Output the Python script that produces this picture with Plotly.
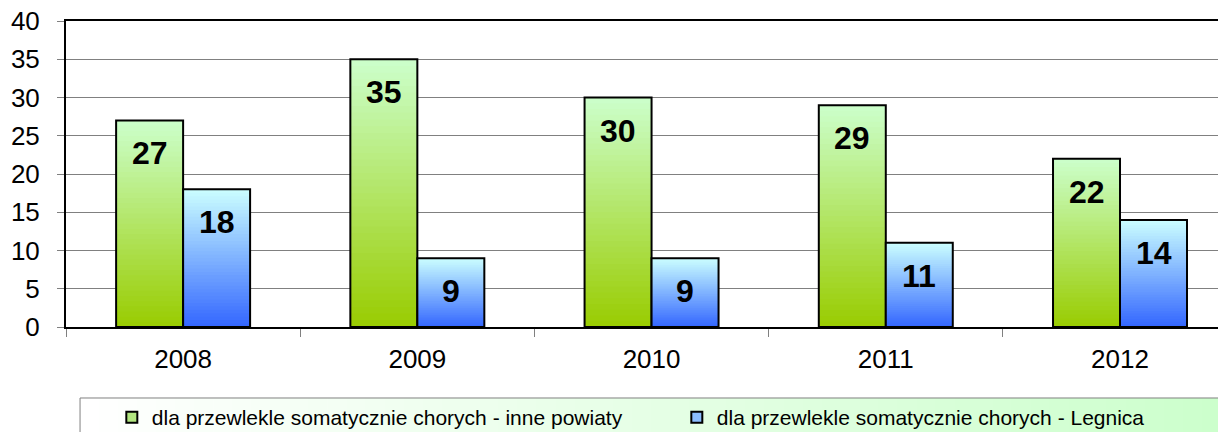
import plotly.graph_objects as go

categories = ["2008", "2009", "2010", "2011", "2012"]
inne_powiaty = [27, 35, 30, 29, 22]
legnica = [18, 9, 9, 11, 14]
series_names = ["dla przewlekle somatycznie chorych - inne powiaty",
                "dla przewlekle somatycznie chorych - Legnica"]
y_ticks = [0, 5, 10, 15, 20, 25, 30, 35, 40]

FONT = "Liberation Sans, Arial, sans-serif"
N = 40
BAR_W = 0.286


def lerp(c1, c2, t):
    return "rgb(%d,%d,%d)" % tuple(round(a + (b - a) * t) for a, b in zip(c1, c2))


green_bottom, green_top = (153, 204, 0), (204, 255, 204)
blue_bottom, blue_top = (51, 102, 255), (204, 255, 255)

fig = go.Figure()

specs = [
    (inne_powiaty, -BAR_W, green_bottom, green_top, series_names[0], "rgb(178,230,128)"),
    (legnica, 0.0, blue_bottom, blue_top, series_names[1], "rgb(140,190,255)"),
]

for vals, off, cb, ct, name, mid in specs:
    # overlapping layers (tallest first) give a seamless vertical gradient
    for k in range(N - 1, -1, -1):
        t = (k + 0.5) / N
        fig.add_trace(go.Bar(
            x=categories, y=[v * (k + 1) / N for v in vals],
            width=BAR_W, offset=off, marker=dict(color=lerp(cb, ct, t), line=dict(width=0)),
            showlegend=False, hoverinfo="skip"))
    fig.add_trace(go.Bar(
        x=categories, y=vals, width=BAR_W, offset=off, name=name,
        marker=dict(color="rgba(0,0,0,0)", line=dict(color="black", width=2)),
        showlegend=False))
    fig.add_trace(go.Scatter(
        x=[None], y=[None], mode="markers", name=name,
        marker=dict(symbol="square", size=11, color=mid, line=dict(color="black", width=2))))

annotations = []
for vals, sign in [(inne_powiaty, -1), (legnica, 1)]:
    for i, v in enumerate(vals):
        annotations.append(dict(
            x=i, y=v, xref="x", yref="y", text="<b>%d</b>" % v, showarrow=False,
            xshift=sign * 33.5, yshift=-33, yanchor="middle",
            font=dict(family=FONT, size=32, color="black")))

# legend box with horizontal gradient
shapes = []
lx0, lx1, ly0, ly1 = 0.0121, 0.9957, -0.232, -0.36
S = 60
for i in range(S):
    t = (i + 0.5) / S
    shapes.append(dict(type="rect", xref="paper", yref="paper",
                       x0=lx0 + (lx1 - lx0) * i / S, x1=lx0 + (lx1 - lx0) * (i + 1) / S + 0.0005,
                       y0=ly0, y1=ly1, line=dict(width=0),
                       fillcolor=lerp((255, 255, 255), (204, 255, 204), t), layer="above"))
shapes.append(dict(type="rect", xref="paper", yref="paper", x0=lx0, x1=lx1, y0=ly0, y1=ly1,
                   line=dict(color="#808080", width=1), fillcolor="rgba(0,0,0,0)", layer="above"))

# the page body adds an 8px offset, so margins are reduced by 8px on left/top
fig.update_layout(
    width=1226, height=432,
    margin=dict(l=58, r=8, t=13, b=113, autoexpand=False),
    paper_bgcolor="white", plot_bgcolor="white",
    barmode="overlay",
    font=dict(family=FONT, color="black"),
    annotations=annotations, shapes=shapes,
    legend=dict(orientation="h", x=0.0395, xanchor="left", y=-0.2958, yanchor="middle",
                bgcolor="rgba(0,0,0,0)", font=dict(family=FONT, size=21, color="black"),
                entrywidth=520, itemwidth=30),
    xaxis=dict(type="category", range=[-0.5, 4.4525], showline=True, linecolor="black",
               linewidth=2, mirror=True, ticks="outside", tickson="boundaries", ticklen=8,
               tickcolor="#808080", tickfont=dict(family=FONT, size=26, color="black"),
               ticklabelstandoff=8, showgrid=False, fixedrange=True, automargin=False),
    yaxis=dict(range=[0, 40], tickvals=y_ticks, showline=True, linecolor="black", linewidth=2,
               ticks="outside", ticklen=7, tickcolor="#808080",
               tickfont=dict(family=FONT, size=26, color="black"), ticklabelstandoff=12,
               ticklabeloverflow="allow",
               showgrid=True, gridcolor="#808080", gridwidth=1, zeroline=False, fixedrange=True,
               automargin=False),
)

fig.write_html("out.html")
